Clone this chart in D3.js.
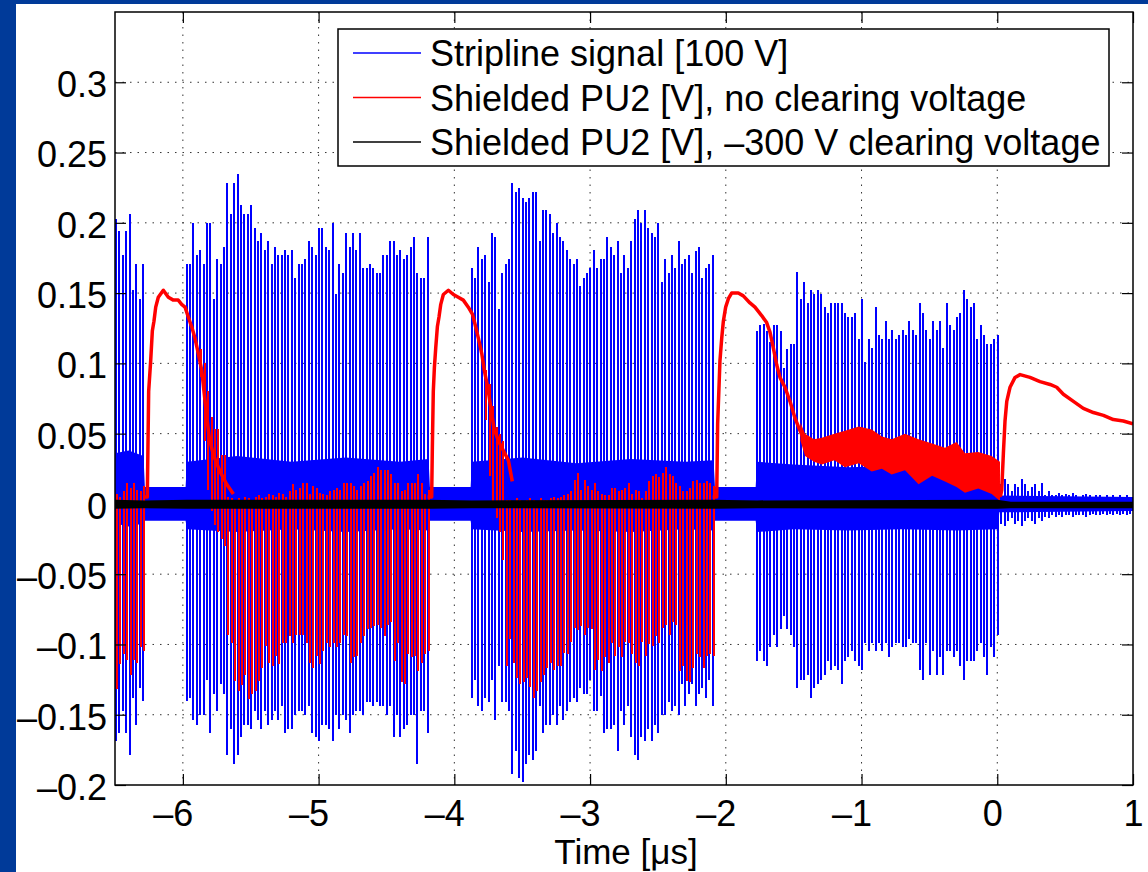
<!DOCTYPE html>
<html>
<head>
<meta charset="utf-8">
<script src="https://cdn.jsdelivr.net/npm/d3@7"></script>
<style>
  body { margin: 0; background: #003a99; }
  svg { display: block; font-family: "Liberation Sans", Arial, Helvetica, sans-serif; }
</style>
</head>
<body>
<div id="chart"></div>
<script>
// values in thousandths of a volt, one per 25 ns bunch
var bunchStep = 0.025;
var trainStart = [-6.493, -5.972, -3.872, -1.772];

var blueTop0 = [203,194,177,194,206,152,171,146,171];
var blueBot0 = [-169,-163,-147,-163,-179,-138,-157,-131,-140];

var blueTop1 = [171,171,200,177,181,171,200,200,146,174, 171,183,228,206,228,235,213,206,206,213,
  196,187,193,181,187,171,183,177,177,181, 177,181,161,171,171,174,187,183,177,196,
  196,183,181,200,149,171,164,193,183,193, 181,193,168,168,171,168,164,164,177,177,
  187,187,177,181,174,177,183,190,164,161, 161,190];
var blueBot1 = [-140,-138,-154,-157,-150,-150,-125,-163,-135,-147, -128,-135,-179,-160,-185,-179,-166,-157,-157,-160,
  -147,-154,-160,-147,-157,-154,-147,-154,-144,-163, -160,-160,-150,-147,-147,-150,-144,-163,-166,-169,
  -157,-157,-160,-169,-150,-160,-150,-154,-163,-150, -147,-147,-150,-141,-141,-144,-141,-144,-144,-150,
  -144,-166,-150,-166,-160,-157,-150,-150,-185,-147, -147,-163];

var blueTop2 = [168,161,183,174,177,158,193,190,139,164, 171,174,228,222,225,218,215,218,222,222,
  187,209,209,206,193,200,190,187,181,174, 171,174,155,161,164,168,181,168,174,174,
  190,183,177,187,164,177,168,187,203,209, 200,209,196,193,190,200,158,174,164,177,
  168,187,171,174,177,164,180,183,161,168, 171,177];
var blueBot2 = [-138,-125,-144,-147,-138,-141,-125,-154,-115,-141, -141,-147,-192,-176,-195,-198,-185,-179,-182,-176,
  -144,-163,-157,-157,-150,-157, -144,-154,-147,-141,-138,-141,-131,-135,-135,-125,
  -147,-147,-137,-163,-160,-160,-157,-176,-147,-157, -144,-166,-179,-182,-166,-169,-160,-169,-157,-163,
  -150,-150,-141,-147,-144,-150,-128,-144,-135,-128, -144,-135,-131,-138,-125,-144];

var blueTop3 = [123,127,128,123,115,127,127,123,97,110, 114,114,165,146,158,143,152,149,152,149,
  140,136,143,143,143,143,136,133,133,136, 117,146,101,117,111,140,120,117,130,117,
  124,117,120,124,120,130,124,120,143,136, 124,117,130,124,130,111,143,127,124,133,
  136,152,146,140,143,117,127,120,114,114, 117,120];
var blueBot3 = [-112,-105,-112,-115,-102,-93,-102,-89,-80,-89, -93,-102,-131,-125,-125,-122,-138,-131,-128,-125,
  -122,-112,-118,-115,-118,-128,-112,-109,-105,-112, -115,-118,-99,-105,-99,-105,-99,-105,-99,-109,
  -102,-99,-99,-102,-102,-96,-99,-99,-118,-125, -99,-122,-105,-122,-109,-122,-105,-105,-109,-105,
  -115,-125,-112,-112,-112,-105,-99,-109,-122,-102, -109,-93];

var tailStart = 0.03;
var blueTailTop = [14,18,14,9,14,12,18,14,9,12, 14,9,15,6,9,6,6,8,6,7, 6,8,6,5,6,7,6,5,6,6, 5,6,5,6,5,6,5,6,5];
var blueTailBot = [-14,-16,-12,-10,-14,-12,-16,-12,-10,-12, -14,-10,-12,-9,-10,-8,-9,-8,-9,-8,
  -8,-9,-8,-8,-8,-9,-8,-7,-8,-8, -7,-8,-7,-8,-7,-8,-7,-8,-7];

// dense ringing of the stripline near zero (envelope)
var blueBandT  = [-6.5, -6.40, -6.29, -6.28, -5.98, -5.97, -5.6, -5.2, -4.8, -4.4, -4.19, -4.18, -3.88, -3.87,
  -3.5, -3.1, -2.7, -2.3, -2.09, -2.08, -1.78, -1.77, -1.5, -1.1, -0.7, -0.3, 0.005, 0.015, 1.0];
var blueBandHi = [36, 38, 34, 12, 12, 30, 34, 30, 33, 30, 32, 12, 12, 30, 33, 29, 32, 30, 31, 12, 12,
  30, 28, 26, 27, 24, 26, 6, 5];
var blueBandLo = [-14, -16, -14, -12, -12, -18, -20, -18, -20, -18, -19, -12, -12, -18, -20, -19, -20, -18, -19,
  -12, -12, -20, -18, -19, -18, -19, -18, -6, -5];

// shielded pick-up, no clearing: spikes per bunch
var redTop0 = [7,5,9,15,11,15,10,9,13];
var redBot0 = [-132,-114,-107,-111,-122,-111,-113,-102,-105];

var redFirst1 = 4;
var redTop1 = [110,100,80,62,53,53,35,35,
  5,4,3,4,3,5,4,3,5,6,4,5,7,6,5,8, 7,5,9,14,10,11,15,15,7,13,
  11,8,7,6,9,10,11,10,15,15, 15,13,10,13,15,16,20,22,26,24,
  24,24,21,15,15,9,10,15,15,15, 21,15,7,10];
var redBot1 = [90,45,10,-5,-15,-20,-25,-30,
  -93,-99,-126,-133,-129,-122,-139,-135,-133,-126, -117,-101,-113,-115,-108,-114,-99,-99,-94,-99,
  -93,-93,-93,-99,-113,-117,-108,-114,-105,-99, -102,-99,-102,-99,-93,-94,-113,-109,-108,-99,
  -94,-89,-88,-87,-86,-88,-94,-86,-84,-112, -99,-127,-128,-107,-109,-108,-119,-113,-107,-105];

var redFirst2 = 4;
var redTop2 = [95,85,70,55,50,45,
  3,3,2,4,3,2,3,4,3,2,4,3,3,4,5,4,5,6,
  7,9,17,22,10,17,13,10,15,9, 7,6,6,11,11,9,10,11,15,7,
  10,9,4,9,16,20,21,19,22,26, 21,20,15,13,9,9,11,16,17,15, 15,16,15,13];
var redBot2 = [60,20,0,-10,-20,-40,
  -115,-96,-113,-124,-128,-127,-124,-130,-138,-133, -127,-122,-117,-113,-118,-115,
  -115,-106,-107,-98,-88,-90,-87,-93,-88,-89, -118,-111,-119,-109,-113,-99,-108,-102,-109,-98,
  -99,-107,-113,-115,-98,-108,-100,-101,-94,-99, -88,-86,-93,-84,-86,-119,-115,-126,-127,-117,
  -107,-109,-117,-108,-107,-108];

// slow part of the shielded pick-up signal
var redCurve1T = [-6.293,-6.262,-6.252,-6.237,-6.225,-6.213,-6.200,-6.181,-6.144,-6.107,-6.070,-6.034,-6.009,
  -5.984,-5.960,-5.935,-5.911,-5.886,-5.861,-5.842,-5.824,-5.805,-5.776,-5.726,-5.677,-5.628];
var redCurve1V = [5,5,80,102,123,130,140,147,152,147,145,145,142,140,133,126,118,107,95,78,62,47,35,23,14,7];

var redCurve2T = [-4.197,-4.167,-4.162,-4.155,-4.147,-4.137,-4.125,-4.113,-4.100,-4.081,-4.044,-4.007,-3.971,
  -3.934,-3.897,-3.867,-3.848,-3.823,-3.798,-3.779,-3.754,-3.732,-3.708,-3.676,-3.639,-3.602,-3.573];
var redCurve2V = [5,5,40,80,97,111,126,133,142,149,152,149,147,145,140,135,128,118,107,95,83,69,54,45,38,31,16];

var redCurve3T = [-2.097,-2.067,-2.060,-2.043,-2.030,-2.018,-2.001,-1.981,-1.957,-1.908,-1.871,-1.822,-1.785,
  -1.736,-1.699,-1.674,-1.650,-1.625,-1.601,-1.564,-1.527,-1.490,-1.453,-1.416,-1.367,-1.293,-1.220,
  -1.122,-1.024,-0.925,-0.827,-0.729,-0.630,-0.532,-0.434,-0.336,-0.238,-0.140,-0.041,0.008,0.025,0.033,
  0.045,0.057,0.070,0.094,0.131,0.168,0.241,0.315,0.389,0.438,0.487,0.561,0.634,0.708,0.782,0.855,0.929,1.0];
var redCurve3V = [5,5,57,102,118,130,140,146,150,150,148,143,140,134,129,122,111,99,90,83,73,61,52,44,
  40,40,41,44,44,43,39,36,35,34,32,31,24,21,19,12,6,10,36,59,73,83,90,92,90,87,85,83,78,73,68,65,63,60,59,57];

// noisy plateau of the red trace during the last train
var redNoiseT  = [-1.45, -1.416, -1.35, -1.293, -1.2, -1.122, -1.02, -0.925, -0.85, -0.778, -0.68, -0.58,
  -0.48, -0.385, -0.3, -0.238, -0.14, -0.041, 0.02];
var redNoiseHi = [58, 50, 46, 47, 50, 52, 55, 53, 48, 46, 50, 46, 43, 40, 44, 36, 37, 34, 30];
var redNoiseLo = [45, 34, 30, 28, 31, 26, 29, 23, 25, 21, 24, 14, 20, 16, 12, 8, 11, 7, 2];

// shielded pick-up with -300 V clearing voltage
var blackT  = [-6.5, -6.28, -5.97, -4.19, -3.87, -2.09, -1.77, 0.0, 0.1, 1.0];
var blackHi = [3, 2.5, 3, 3, 2.5, 3, 2.5, 3, 1.5, 1.5];
var blackLo = [-3.5, -3, -3.5, -3.5, -3, -3.5, -3, -3.5, -3, -3];

var xTicks = [-6, -5, -4, -3, -2, -1, 0, 1];
var xTickLabels = ["–6", "–5", "–4", "–3", "–2", "–1", "0", "1"];
var yTicks = [-0.2, -0.15, -0.1, -0.05, 0, 0.05, 0.1, 0.15, 0.2, 0.25, 0.3];
var yTickLabels = ["–0.2", "–0.15", "–0.1", "–0.05", "0", "0.05", "0.1", "0.15", "0.2", "0.25", "0.3"];

var legendNames = ["Stripline signal [100 V]", "Shielded PU2 [V], no clearing voltage",
  "Shielded PU2 [V], –300 V clearing voltage"];
var legendColors = ["#0000ff", "#ff0000", "#000000"];

var margin = {top: 12, right: 15, bottom: 87, left: 115},
    width = 1148 - margin.left - margin.right,
    height = 872 - margin.top - margin.bottom;

var svg = d3.select("#chart").append("svg")
    .attr("width", 1148)
    .attr("height", 872);

svg.append("rect").attr("width", 1148).attr("height", 872).attr("fill", "#003a99");
svg.append("rect").attr("x", 16).attr("y", 4).attr("width", 1132).attr("height", 868).attr("fill", "#fff");

var x = d3.scaleLinear().domain([-6.5, 1]).range([0, width]);
var y = d3.scaleLinear().domain([-0.2, 0.35]).range([height, 0]);

var g = svg.append("g")
    .attr("transform", "translate(" + margin.left + "," + margin.top + ")");

g.append("clipPath").attr("id", "plotclip")
  .append("rect").attr("width", width).attr("height", height);

// grid
g.append("g").selectAll("line").data(xTicks.filter(function(d) { return d > -6.5 && d < 1; }))
  .enter().append("line")
    .attr("x1", function(d) { return x(d); }).attr("x2", function(d) { return x(d); })
    .attr("y1", 0).attr("y2", height)
    .attr("stroke", "#333").attr("stroke-width", 1).attr("stroke-dasharray", "1.5,6");
g.append("g").selectAll("line").data(yTicks.filter(function(d) { return d > -0.2; }))
  .enter().append("line")
    .attr("y1", function(d) { return y(d); }).attr("y2", function(d) { return y(d); })
    .attr("x1", 0).attr("x2", width)
    .attr("stroke", "#333").attr("stroke-width", 1).attr("stroke-dasharray", "1.5,6");

function bunches(start, tops, bots, first, shift) {
  first = first || 0;
  shift = shift || 0;
  return tops.map(function(d, i) {
    return {t: start + (first + i) * bunchStep + shift, hi: d / 1000, lo: bots[i] / 1000};
  });
}

function knots(ts, his, los) {
  return ts.map(function(t, i) { return {t: t, hi: his[i] / 1000, lo: los[i] / 1000}; });
}

var plot = g.append("g").attr("clip-path", "url(#plotclip)");

var band = d3.area()
    .x(function(d) { return x(d.t); })
    .y0(function(d) { return y(d.lo); })
    .y1(function(d) { return y(d.hi); });

var curve = d3.line()
    .x(function(d) { return x(d.t); })
    .y(function(d) { return y(d.v); });

function spikes(data, color, w) {
  plot.append("g").attr("shape-rendering", "crispEdges")
    .selectAll("line").data(data).enter().append("line")
      .attr("x1", function(d) { return x(d.t); })
      .attr("x2", function(d) { return x(d.t); })
      .attr("y1", function(d) { return y(d.hi); })
      .attr("y2", function(d) { return y(d.lo); })
      .attr("stroke", color)
      .attr("stroke-width", w);
}

// stripline
plot.append("path").datum(knots(blueBandT, blueBandHi, blueBandLo))
    .attr("d", band).attr("fill", "#0000ff");
var blue = []
  .concat(bunches(trainStart[0], blueTop0, blueBot0))
  .concat(bunches(trainStart[1], blueTop1, blueBot1))
  .concat(bunches(trainStart[2], blueTop2, blueBot2))
  .concat(bunches(trainStart[3], blueTop3, blueBot3))
  .concat(bunches(tailStart, blueTailTop, blueTailBot));
spikes(blue, "#0000ff", 2);

// shielded PU, no clearing
[[redCurve1T, redCurve1V], [redCurve2T, redCurve2V], [redCurve3T, redCurve3V]].forEach(function(c) {
  plot.append("path")
      .datum(c[0].map(function(t, i) { return {t: t, v: c[1][i] / 1000}; }))
      .attr("d", curve)
      .attr("fill", "none")
      .attr("stroke", "#ff0000")
      .attr("stroke-width", 3.5)
      .attr("stroke-linejoin", "round");
});
plot.append("path").datum(knots(redNoiseT, redNoiseHi, redNoiseLo))
    .attr("d", band).attr("fill", "#ff0000");
var red = []
  .concat(bunches(trainStart[0], redTop0, redBot0, 0, 0.008))
  .concat(bunches(trainStart[1], redTop1, redBot1, redFirst1, 0.008))
  .concat(bunches(trainStart[2], redTop2, redBot2, redFirst2, 0.008));
spikes(red, "#ff0000", 2);

// shielded PU, clearing on
plot.append("path").datum(knots(blackT, blackHi, blackLo))
    .attr("d", band).attr("fill", "#000");

// axes
var fontSize = 36;
var xAxis = g.append("g")
    .attr("transform", "translate(0," + height + ")")
    .call(d3.axisBottom(x).tickValues(xTicks).tickSize(-11).tickPadding(15)
      .tickFormat(function(d, i) { return xTickLabels[i]; }));
xAxis.selectAll("text")
    .attr("dx", function(d) { return d < 0 ? -10 : (d === 0 ? -5 : 0); });

var yAxis = g.append("g")
    .call(d3.axisLeft(y).tickValues(yTicks).tickSize(-11).tickPadding(8)
      .tickFormat(function(d, i) { return yTickLabels[i]; }));
yAxis.selectAll("text").attr("dy", "0.4em");

g.append("g").call(d3.axisTop(x).tickValues(xTicks).tickSize(-11).tickFormat(""));
g.append("g").attr("transform", "translate(" + width + ",0)")
    .call(d3.axisRight(y).tickValues(yTicks).tickSize(-11).tickFormat(""));

g.selectAll(".domain").remove();
g.selectAll(".tick line").attr("stroke", "#000").attr("stroke-width", 1.2);
g.selectAll(".tick text").attr("fill", "#000").style("font-size", fontSize + "px")
    .style("font-family", "'Liberation Sans', Arial, sans-serif");

g.append("rect")
    .attr("width", width).attr("height", height)
    .attr("fill", "none").attr("stroke", "#000").attr("stroke-width", 1.5);

g.append("text")
    .attr("x", width / 2 + 2)
    .attr("y", height + 79)
    .attr("text-anchor", "middle")
    .style("font-size", "35px")
    .text("Time [μs]");

// legend
var legendRows = legendNames.map(function(d, i) { return {name: d, color: legendColors[i], i: i}; });
var legend = svg.append("g").attr("transform", "translate(338,29)");
legend.append("rect")
    .attr("width", 771).attr("height", 137)
    .attr("fill", "#fff").attr("stroke", "#000").attr("stroke-width", 1.5);
var row = legend.selectAll(".row").data(legendRows).enter().append("g")
    .attr("class", "row")
    .attr("transform", function(d) { return "translate(0," + (24 + d.i * 44.5) + ")"; });
row.append("line")
    .attr("x1", 15).attr("x2", 83)
    .attr("stroke", function(d) { return d.color; })
    .attr("stroke-width", 1.5);
row.append("text")
    .attr("x", 92).attr("y", 13)
    .style("font-size", fontSize + "px")
    .text(function(d) { return d.name; });
</script>
</body>
</html>
